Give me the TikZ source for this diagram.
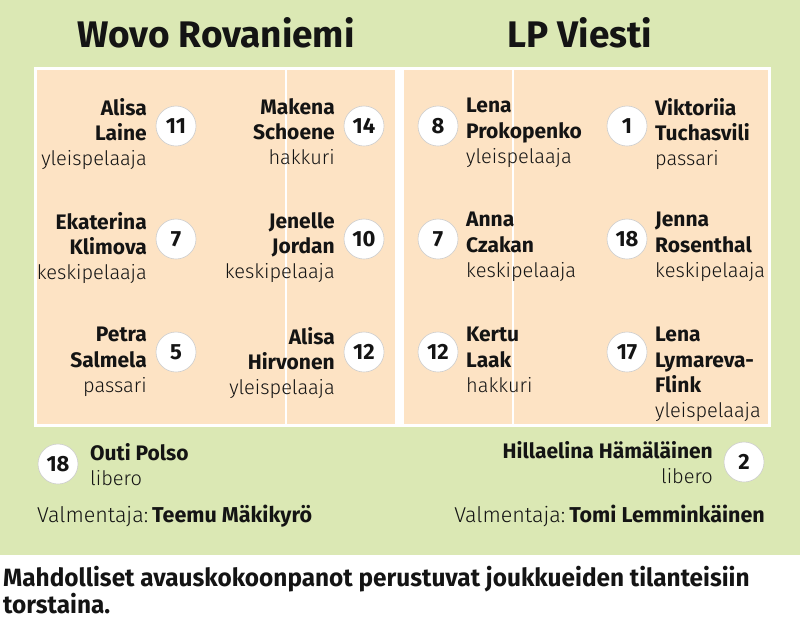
\documentclass[tikz,border=0pt]{standalone}
\usepackage{fontspec}
\setmainfont{Fira Sans}
\IfFontExistsTF{Fira Sans Light}
  {\newfontfamily\thinfont{Fira Sans Light}}
  {\newfontfamily\thinfont{Fira Sans}}
\usepackage{xcolor}
\usepackage{tikz}

\definecolor{fieldgreen}{RGB}{219,232,180}
\definecolor{courtpeach}{RGB}{253,227,196}
\definecolor{ringgray}{RGB}{205,205,205}
\definecolor{inkblack}{RGB}{20,20,20}

\newcommand{\role}[1]{{\mdseries\thinfont\fontsize{20}{25.3}\selectfont #1}}

\begin{document}
\begin{tikzpicture}[
    % GLOBAL CFG
    x=1pt, y=-1pt,
    every node/.style={text=inkblack},
    % Styles
    shirt/.style={% For the shirt numbers
        circle,
        draw=ringgray,
        fill=white,
        line width=0.6pt,
        minimum size=40pt,
        inner sep=0pt,
        font=\fontsize{22}{26}\selectfont\bfseries,
        },
    nameL/.style={% Names standing left of the number
        anchor=north east,
        align=right,
        inner sep=0pt,
        font=\fontsize{21}{25.3}\selectfont\bfseries,
        },
    nameR/.style={% Names standing right of the number
        anchor=north west,
        align=left,
        inner sep=0pt,
        font=\fontsize{21}{25.3}\selectfont\bfseries,
        },
    team/.style={% Team titles
        anchor=base,
        inner sep=0pt,
        font=\fontsize{37}{40}\selectfont\bfseries,
        },
    coach/.style={% Coach lines
        inner sep=0pt,
        font=\fontsize{21.5}{24}\selectfont\thinfont,
        },
    note/.style={% Caption under the field
        anchor=base west,
        inner sep=0pt,
        font=\fontsize{25}{29}\selectfont\bfseries,
        },
    courtline/.style={% White lines on the court
        draw=white,
        line width=3pt,
        },
    ]

    % Background and court
    \fill [fieldgreen] (0,0) rectangle (800,555);
    \useasboundingbox (0,0) rectangle (800,627);
    \draw [courtline, fill=courtpeach] (35,68) rectangle (769,425);
    \fill [white] (395,68) rectangle (404,425); % net
    \draw [courtline, line width=2pt] (286,68) -- (286,425); % attack lines
    \draw [courtline, line width=2pt] (513,68) -- (513,425);

    % Team titles
    \node [team] (wovo) at (216,47) {Wovo Rovaniemi};
    \node [team] (viesti) at (580,47) {LP Viesti};

    % Wovo Rovaniemi, named w#
    \node [shirt] (w11) at (176,126) {11};
    \node [nameL] (tw11) at (147,98) {Alisa\\Laine\\\role{yleispelaaja}};
    \node [shirt] (w14) at (364,126) {14};
    \node [nameL] (tw14) at (335,98) {Makena\\Schoene\\\role{hakkuri}};
    \node [shirt] (w7) at (176,239) {7};
    \node [nameL] (tw7) at (147,212) {Ekaterina\\Klimova\\\role{keskipelaaja}};
    \node [shirt] (w10) at (364,239) {10};
    \node [nameL] (tw10) at (335,212) {Jenelle\\Jordan\\\role{keskipelaaja}};
    \node [shirt] (w5) at (176,352) {5};
    \node [nameL] (tw5) at (147,327) {Petra\\Salmela\\\role{passari}};
    \node [shirt] (w12) at (364,352) {12};
    \node [nameL] (tw12) at (335,327) {Alisa\\Hirvonen\\\role{yleispelaaja}};

    % LP Viesti, named v#
    \node [shirt] (v8) at (438,126) {8};
    \node [nameR] (tv8) at (466,98) {Lena\\Prokopenko\\\role{yleispelaaja}};
    \node [shirt] (v1) at (627,126) {1};
    \node [nameR] (tv1) at (655,98) {Viktoriia\\Tuchasvili\\\role{passari}};
    \node [shirt] (v7) at (438,239) {7};
    \node [nameR] (tv7) at (466,212) {Anna\\Czakan\\\role{keskipelaaja}};
    \node [shirt] (v18) at (627,239) {18};
    \node [nameR] (tv18) at (655,212) {Jenna\\Rosenthal\\\role{keskipelaaja}};
    \node [shirt] (v12) at (438,352) {12};
    \node [nameR] (tv12) at (466,327) {Kertu\\Laak\\\role{hakkuri}};
    \node [shirt] (v17) at (627,352) {17};
    \node [nameR] (tv17) at (655,327) {Lena\\Lymareva-\\Flink\\\role{yleispelaaja}};

    % Liberos
    \node [shirt] (wlib) at (58,464) {18};
    \node [nameR] (twlib) at (90,443) {Outi Polso\\\role{libero}};
    \node [shirt] (vlib) at (744,462) {2};
    \node [nameL] (tvlib) at (713,441) {Hillaelina Hämäläinen\\\role{libero}};

    % Coaches
    \node [coach, anchor=base west] (wcoach) at (37,522) {Valmentaja:\hspace{4pt}{\rmfamily\bfseries Teemu Mäkikyrö}};
    \node [coach, anchor=base east] (vcoach) at (765,522) {Valmentaja:\hspace{4pt}{\rmfamily\bfseries Tomi Lemminkäinen}};

    % Caption below the field
    \node [note] (note1) at (3,586) {\scalebox{0.975}[1]{Mahdolliset avauskokoonpanot perustuvat joukkueiden tilanteisiin}};
    \node [note] (note2) at (3,613) {\scalebox{0.975}[1]{torstaina.}};

\end{tikzpicture}
\end{document}
